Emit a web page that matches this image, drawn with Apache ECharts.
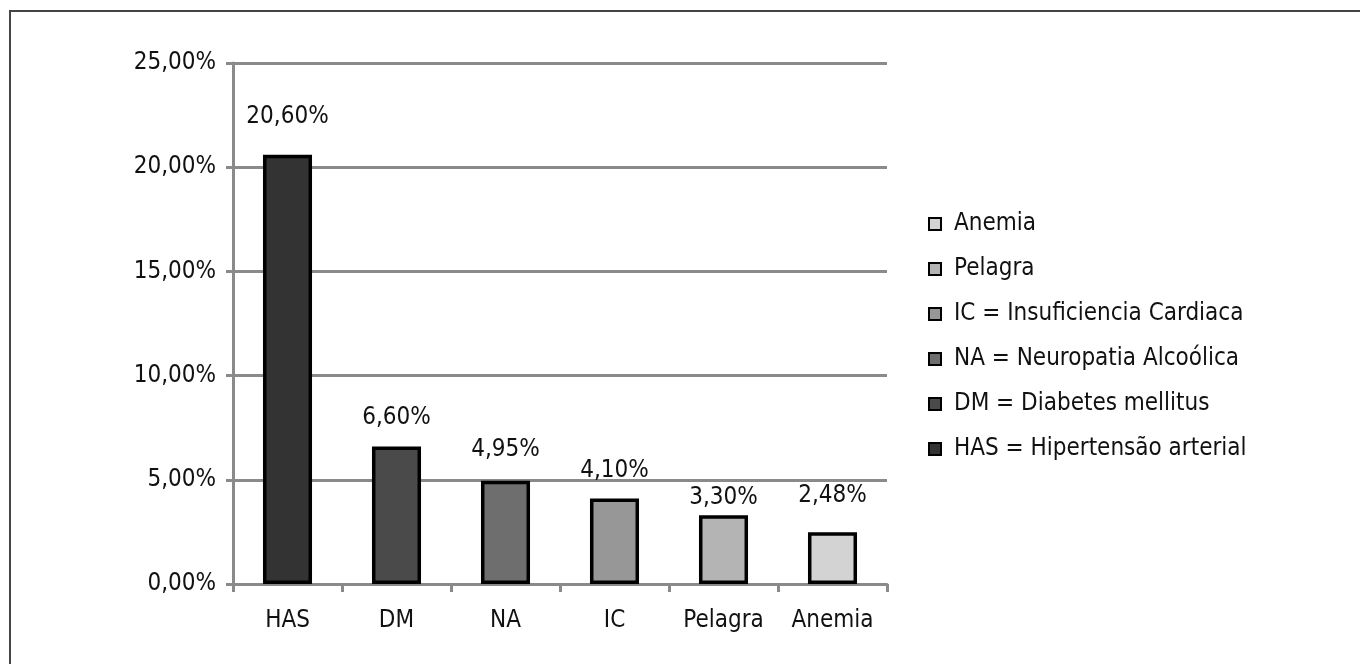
<!DOCTYPE html>
<html>
<head>
<meta charset="utf-8">
<title>Comorbidades</title>
<script src="https://cdn.jsdelivr.net/npm/echarts@6/dist/echarts.min.js"></script>
<style>
  html, body { margin: 0; padding: 0; background: #fff; }
  #chart { width: 1360px; height: 664px; }
</style>
</head>
<body>
<div id="chart"></div>
<script>
// Categories on the x axis and their share of patients (%)
const categories = ['HAS', 'DM', 'NA', 'IC', 'Pelagra', 'Anemia'];
const values = [20.60, 6.60, 4.95, 4.10, 3.30, 2.48];
const legendNames = [
  'HAS = Hipertensão arterial',
  'DM = Diabetes mellitus',
  'NA = Neuropatia Alcoólica',
  'IC = Insuficiencia Cardiaca',
  'Pelagra',
  'Anemia'
];
const yTicks = [0, 5, 10, 15, 20, 25];

// Styling
const barColors = ['#333333', '#4a4a4a', '#6e6e6e', '#979797', '#b4b4b4', '#d3d3d3'];
const labelDistance = [26, 17, 19, 16, 5, 25];
const FONT = '"DejaVu Sans Condensed", "Liberation Sans Narrow", "Liberation Sans", sans-serif';
const FS = 24;
const GRAY = '#8a8a8a';

const pct = v => v.toFixed(2).replace('.', ',') + '%';

// One series per category so each gets its own legend entry
const series = categories.map((cat, i) => ({
  name: legendNames[i],
  type: 'bar',
  stack: 'all',
  barWidth: '45%',
  data: categories.map((c, j) => (j === i ? values[i] : '-')),
  itemStyle: { color: barColors[i], borderColor: '#000', borderWidth: 3.5 },
  label: {
    show: true,
    position: 'top',
    distance: labelDistance[i],
    formatter: p => pct(p.value),
    fontFamily: FONT,
    fontSize: FS,
    color: '#111'
  }
}));

const chart = echarts.init(document.getElementById('chart'));
chart.setOption({
  animation: false,
  backgroundColor: '#fff',
  grid: { left: 233, right: 473, top: 63, bottom: 80, containLabel: false },
  xAxis: {
    type: 'category',
    data: categories,
    axisLine: { lineStyle: { color: GRAY, width: 3 } },
    axisTick: { show: true, length: 8, lineStyle: { color: GRAY, width: 3 } },
    axisLabel: { fontFamily: FONT, fontSize: FS, color: '#111', margin: 25 }
  },
  yAxis: {
    type: 'value',
    min: yTicks[0],
    max: yTicks[yTicks.length - 1],
    interval: yTicks[1] - yTicks[0],
    axisLine: { show: true, lineStyle: { color: GRAY, width: 3 } },
    axisTick: { show: true, length: 7, lineStyle: { color: GRAY, width: 3 } },
    splitLine: { show: true, lineStyle: { color: GRAY, width: 3 } },
    axisLabel: { formatter: v => pct(v), fontFamily: FONT, fontSize: FS, color: '#111', margin: 17 }
  },
  legend: {
    orient: 'vertical',
    left: 923,
    top: 207,
    itemGap: 21,
    itemWidth: 12,
    itemHeight: 12,
    icon: 'rect',
    data: legendNames.slice().reverse(),
    itemStyle: { borderColor: '#000', borderWidth: 2 },
    textStyle: { fontFamily: FONT, fontSize: FS, color: '#111', padding: [0, 0, 0, 8] }
  },
  graphic: [{
    type: 'polyline',
    silent: true,
    shape: { points: [[10, 664], [10, 11], [1360, 11]] },
    style: { stroke: '#444', lineWidth: 2, fill: null }
  }],
  series: series
});
</script>
</body>
</html>
